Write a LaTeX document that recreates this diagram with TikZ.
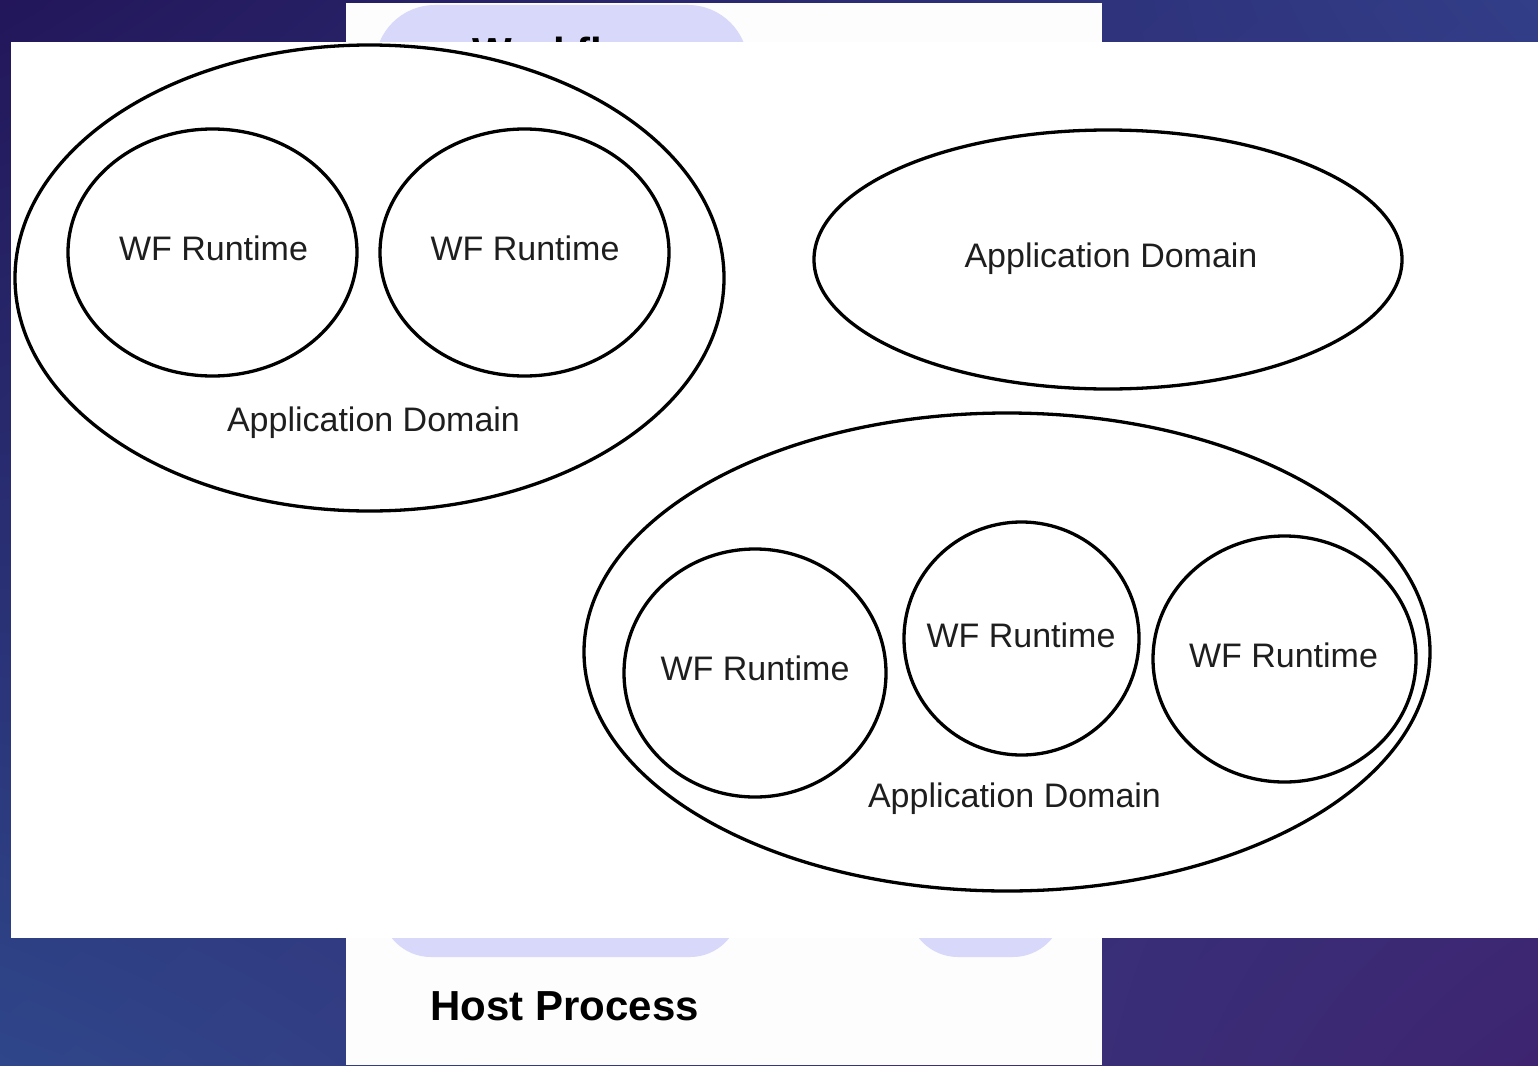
\documentclass[tikz,border=0pt]{standalone}
\usepackage{fontspec}
\setmainfont{Liberation Sans}
\usetikzlibrary{shapes.geometric,shadings}

\definecolor{bgtl}{RGB}{35,22,90}
\definecolor{bgtr}{RGB}{50,62,136}
\definecolor{bgbl}{RGB}{47,70,138}
\definecolor{bgbr}{RGB}{62,36,112}
\definecolor{panelwhite}{RGB}{253,253,253}
\definecolor{lavender}{RGB}{216,216,250}
\definecolor{inkgray}{RGB}{30,30,30}

\begin{document}
\begin{tikzpicture}[line cap=round,line join=round,x=1pt,y=-1pt,
        ringshape/.style={draw=black,ellipse,line width=3.3pt,inner sep=0pt},
        boxtext/.style={anchor=base,text=inkgray,font=\fontsize{34}{38}\selectfont},
        titletext/.style={anchor=base west,text=black,font=\bfseries\fontsize{42}{46}\selectfont}]
        \useasboundingbox (0,0) rectangle (1538,1065);
        \shade[upper left=bgtl,upper right=bgtr,lower left=bgbl,lower right=bgbr] (0,0) rectangle (1538,1065);
        \fill [panelwhite] (346,3) rectangle (1102,1065);
        \fill [lavender,rounded corners=60pt] (375,5) rectangle (748,130);
        \fill [lavender,rounded corners=50pt] (381,870) rectangle (740,957);
        \fill [lavender,rounded corners=50pt] (908,870) rectangle (1063,957);
        \node [titletext] (workflow) at (469,67) {Workflow};
        \node [titletext] (host) at (427,1020) {Host Process};
        \fill [white] (11,42) rectangle (1538,938);
        \node [ringshape,minimum width=709,minimum height=466] (domainA) at (369.5,278) {};
        \node [ringshape,minimum width=289,minimum height=247] (runA1) at (212.5,252.5) {};
        \node [ringshape,minimum width=289,minimum height=247] (runA2) at (524.5,252.5) {};
        \node [ringshape,minimum width=588,minimum height=259] (domainB) at (1108,259.5) {};
        \node [ringshape,minimum width=846,minimum height=478] (domainC) at (1007,652) {};
        \node [ringshape,minimum width=262,minimum height=248] (runC1) at (755,673) {};
        \node [ringshape,minimum width=235,minimum height=233] (runC2) at (1021.5,638.5) {};
        \node [ringshape,minimum width=263,minimum height=246] (runC3) at (1284.5,659) {};
        \node [boxtext] (runA1text) at (213.5,260) {WF Runtime};
        \node [boxtext] (runA2text) at (525,260) {WF Runtime};
        \node [boxtext] (domainAtext) at (373.5,431) {Application Domain};
        \node [boxtext] (domainBtext) at (1111,267) {Application Domain};
        \node [boxtext] (runC1text) at (755,680) {WF Runtime};
        \node [boxtext] (runC2text) at (1021,647) {WF Runtime};
        \node [boxtext] (runC3text) at (1283.5,667) {WF Runtime};
        \node [boxtext] (domainCtext) at (1014.5,807) {Application Domain};
\end{tikzpicture}
\end{document}
